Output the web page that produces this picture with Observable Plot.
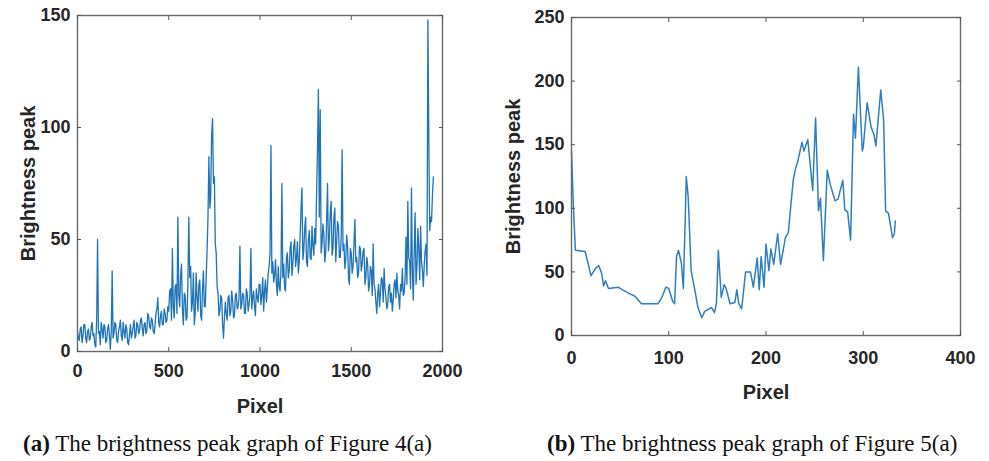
<!DOCTYPE html>
<html><head><meta charset="utf-8">
<script src="https://cdn.jsdelivr.net/npm/d3@7"></script>
<script src="https://cdn.jsdelivr.net/npm/@observablehq/plot@0.6"></script>
<style>
body{margin:0;background:#fff;width:989px;height:461px;position:relative;overflow:hidden;font-family:"Liberation Sans",Arial,sans-serif}
#a{position:absolute;left:0;top:0}
#b{position:absolute;left:490px;top:0}
.cap{position:absolute;top:431px;font-family:"Liberation Serif","Times New Roman",serif;font-size:23px;color:#111;white-space:nowrap}
</style></head><body>
<div id="a"></div><div id="b"></div>
<div class="cap" style="left:23px"><b>(a)</b> The brightness peak graph of Figure 4(a)</div>
<div class="cap" style="left:547px"><b>(b)</b> The brightness peak graph of Figure 5(a)</div>
<script>
// Panel (a): brightness peak, read every 5 pixels (x = 0 … 1950)
const leftStep = 5;
const leftY = [
  9,6,5,10,11,4,7,12,12,6,4,9,10,5,6,11,13,7,8,3,
  2,14,50,8,9,3,13,10,6,12,11,4,5,10,12,7,1,9,36,6,
  8,13,12,5,4,9,11,14,7,5,13,9,6,12,10,4,3,8,12,6,
  8,11,14,6,7,13,12,8,9,14,15,10,7,12,13,8,9,17,16,11,
  10,15,14,9,8,12,17,19,24,13,11,16,18,12,12,19,17,13,14,20,
  18,27,28,14,46,20,15,29,30,17,60,25,20,34,39,19,12,26,25,14,
  15,31,60,33,38,18,22,35,12,17,35,24,18,30,32,16,14,28,36,20,
  20,33,45,60,87,64,70,97,104,75,78,48,44,29,26,16,18,25,24,12,
  6,15,22,17,14,24,25,16,18,27,23,15,16,25,26,19,20,24,47,19,
  21,26,25,17,17,28,26,18,21,25,46,19,24,27,20,16,28,24,22,30,
  30,21,25,33,18,27,32,22,28,35,38,44,92,35,40,31,34,41,30,25,
  38,29,27,36,75,33,39,28,27,42,44,33,36,46,49,34,39,47,50,38,
  42,49,35,40,52,64,73,41,45,55,60,40,38,50,54,42,41,56,47,43,
  55,48,70,90,117,60,108,44,48,57,52,40,44,58,75,45,50,62,67,43,
  46,60,64,40,49,58,56,42,42,51,90,45,48,37,41,52,47,33,30,46,
  44,35,38,48,59,40,42,33,35,47,46,36,39,45,46,30,33,42,39,27,
  30,38,36,25,48,30,28,22,17,26,30,20,26,33,32,22,37,28,24,19,
  21,29,30,22,26,18,23,30,32,24,35,27,25,19,30,27,37,25,26,33,
  51,30,67,42,40,28,73,35,23,45,62,30,38,55,46,32,56,40,36,29,
  39,45,48,34,148,95,54,60,58,70,78
];
const leftX = leftY.map((_, i) => i * leftStep);

// Panel (b)
const rightX = [0,2,4,14,17,20,25,28,31,33,35,38,48,52,62,65,72,89,93,97,
  100,104,106,108,110,113,115,117,118,120,123,127,130,134,137,144,147,149,151,154,
  157,159,163,168,170,172,175,179,184,187,191,193,195,198,200,203,205,208,212,215,
  220,223,225,228,230,233,237,239,243,248,251,254,256,259,263,266,271,274,279,281,
  284,287,290,292,295,299,300,304,308,311,313,318,321,323,326,330,332,333];
const rightY = [145,100,67,66,57,47,53,55,49,39,43,37,38,36,32,31,25,25,30,38,
  37,27,25,62,67,57,37,93,125,109,51,35,22,14,19,22,18,25,67,30,
  40,37,25,26,36,25,21,50,50,38,61,36,62,38,72,51,68,56,80,56,
  77,81,98,122,130,138,152,145,154,114,171,98,108,59,130,119,106,107,122,99,
  97,75,174,155,211,145,148,183,164,158,149,193,169,98,96,77,80,90];

const leftXTicks = [0, 500, 1000, 1500, 2000];
const leftYTicks = [0, 50, 100, 150];
const rightXTicks = [0, 100, 200, 300, 400];
const rightYTicks = [0, 50, 100, 150, 200, 250];

const fmt = d3.format("d");

function panel(o) {
  const data = o.xs.map((x, i) => ({x, y: o.ys[i]}));
  return Plot.plot({
    width: o.width, height: o.height,
    marginLeft: o.ml, marginRight: o.mr, marginTop: o.mt, marginBottom: o.mb,
    style: {fontFamily: "'Liberation Sans', Arial, sans-serif", fontSize: "18px", fontWeight: "bold", color: "#262626", background: "transparent", overflow: "visible"},
    x: {domain: o.xDomain},
    y: {domain: o.yDomain},
    marks: [
      Plot.line(data, {x: "x", y: "y", stroke: o.color, strokeWidth: o.sw}),
      Plot.frame({stroke: "#6a6a6a", strokeWidth: 1.4}),
      Plot.axisX(o.xTicks, {anchor: "bottom", tickSize: -4, tickPadding: o.xtp, stroke: "#555", tickFormat: fmt, label: null}),
      Plot.axisX([], {anchor: "bottom", tickSize: 0, label: "Pixel", labelAnchor: "center", labelArrow: "none", labelOffset: o.xlo, fontSize: 20}),
      Plot.axisX(o.xTicks, {anchor: "top", tickSize: -4, stroke: "#555", tickFormat: () => "", label: null}),
      Plot.axisY(o.yTicks, {anchor: "left", tickSize: -4, tickPadding: 11, stroke: "#555", tickFormat: fmt, label: null}),
      Plot.axisY([], {anchor: "left", tickSize: 0, label: "Brightness peak", labelAnchor: "center", labelArrow: "none", labelOffset: o.ylo, fontSize: 20}),
      Plot.axisY(o.yTicks, {anchor: "right", tickSize: -4, stroke: "#555", tickFormat: () => "", label: null})
    ]
  });
}

document.getElementById("a").append(panel({
  xs: leftX, ys: leftY, xDomain: [0, 2000], yDomain: [0, 150],
  xTicks: leftXTicks, yTicks: leftYTicks,
  width: 470, height: 420, ml: 77, mr: 28, mt: 15, mb: 69,
  xtp: 17, xlo: 61, ylo: 57, sw: 1.3, color: "#1f74b8"
}));
document.getElementById("b").append(panel({
  xs: rightX, ys: rightY, xDomain: [0, 400], yDomain: [0, 250],
  xTicks: rightXTicks, yTicks: rightYTicks,
  width: 499, height: 420, ml: 81, mr: 29, mt: 17, mb: 85,
  xtp: 20, xlo: 63, ylo: 66, sw: 1.5, color: "#2f7fc0"
}));
</script>
</body></html>
